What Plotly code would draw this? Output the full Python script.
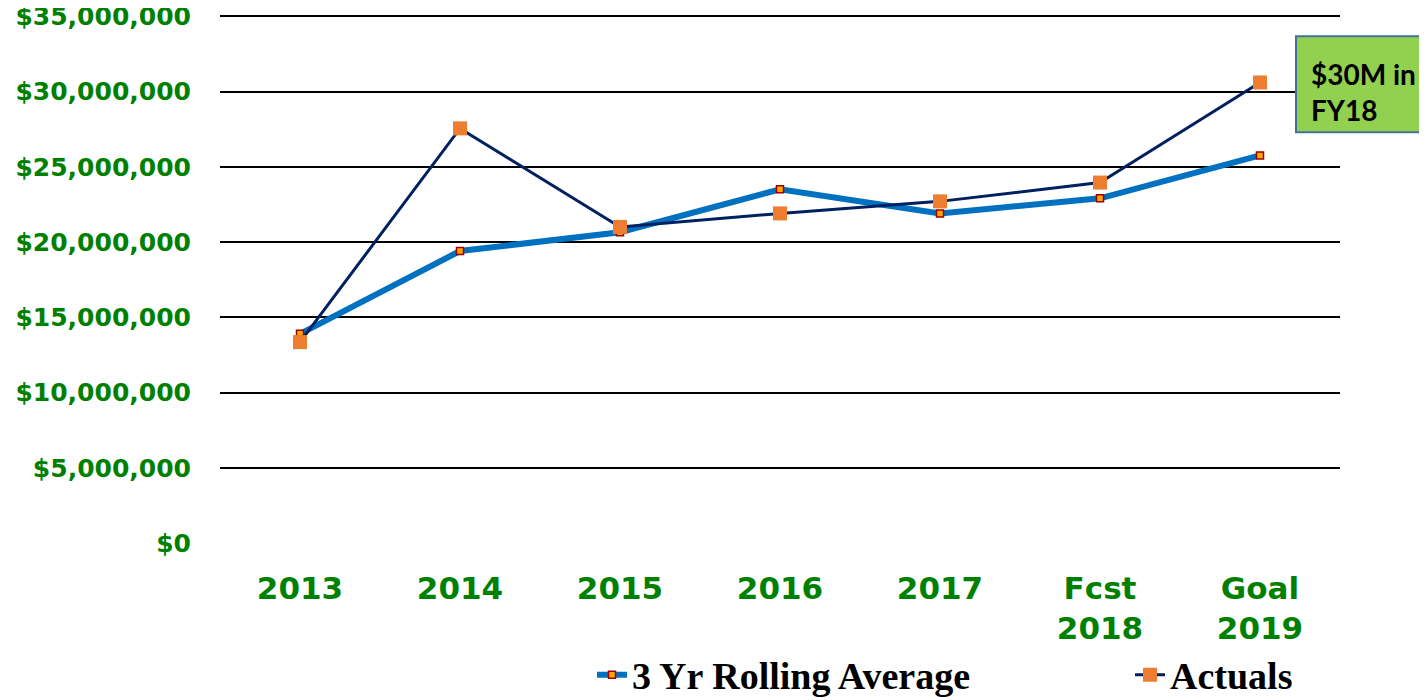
import plotly.graph_objects as go

categories = ["2013", "2014", "2015", "2016", "2017", "Fcst<br>2018", "Goal<br>2019"]
rolling_avg = [13.9e6, 19.4e6, 20.65e6, 23.5e6, 21.9e6, 22.9e6, 25.75e6]
actuals = [13.35e6, 27.55e6, 21.0e6, 21.9e6, 22.7e6, 23.95e6, 30.6e6]
y_ticks = [0, 5e6, 10e6, 15e6, 20e6, 25e6, 30e6, 35e6]
y_tick_text = ["$0", "$5,000,000", "$10,000,000", "$15,000,000", "$20,000,000",
               "$25,000,000", "$30,000,000", "$35,000,000"]

green = "#008000"
OFF = 8  # the page body margin shifts the figure by 8 px
Y_TOP = 35.15e6
W, H = 1427 - OFF, 700 - OFF
# plot area in page pixels: x 220..1340; y of 0 at 543, 35M at 16
px_per_unit = (543 - 16) / 35e6
ph = Y_TOP * px_per_unit
L, R, B = 220 - OFF, 1427 - 1340, 700 - 543
T = H - B - ph
pw = W - L - R


def px(x):
    return (x - OFF - L) / pw


def py(y):
    return (H - B - (y - OFF)) / ph


fig = go.Figure()
fig.add_trace(go.Scatter(
    x=categories, y=rolling_avg, name="3 Yr Rolling Average", mode="lines+markers",
    line=dict(color="#0070C0", width=6),
    marker=dict(symbol="square", size=7, color="#FFA500", line=dict(color="#A00000", width=1.5)),
    legend="legend",
))
fig.add_trace(go.Scatter(
    x=categories, y=actuals, name="Actuals", mode="lines+markers",
    line=dict(color="#002060", width=3),
    marker=dict(symbol="square", size=14, color="#ED7D31"),
    legend="legend2",
))

legend_font = dict(family="Liberation Serif", size=38, color="black", weight="bold")
fig.update_layout(
    width=W, height=H,
    margin=dict(l=L, r=R, t=T, b=B, autoexpand=False),
    plot_bgcolor="white", paper_bgcolor="white",
    showlegend=True,
    legend=dict(orientation="h", x=px(592), xanchor="left", y=py(675), yanchor="middle",
                font=legend_font, bgcolor="rgba(0,0,0,0)"),
    legend2=dict(orientation="h", x=px(1130), xanchor="left", y=py(675), yanchor="middle",
                 font=legend_font, bgcolor="rgba(0,0,0,0)"),
    xaxis=dict(type="category", range=[-0.5, 6.5], showgrid=False, showline=False, zeroline=False,
               ticks="", automargin=False,
               tickfont=dict(family="DejaVu Sans", size=31, color=green, weight="bold"),
               ticklabelstandoff=24),
    yaxis=dict(range=[0, Y_TOP], tickvals=y_ticks, ticktext=y_tick_text, automargin=False,
               showgrid=True, gridcolor="black", gridwidth=2, zeroline=False, showline=False,
               ticks="", ticklabeloverflow="allow",
               tickfont=dict(family="DejaVu Sans", size=25, color=green, weight="bold"),
               ticklabelstandoff=28),
)
fig.add_shape(type="rect", xref="paper", yref="paper",
              x0=px(1296), x1=px(1425), y0=py(132), y1=py(36),
              fillcolor="#92D050", line=dict(color="#41719C", width=2), layer="above")
fig.add_annotation(
    xref="paper", yref="paper", x=px(1309), y=py(92),
    xanchor="left", yanchor="middle", text="$30M in<br>FY18", align="left",
    showarrow=False,
    font=dict(family="Lato", size=28, color="black", weight="bold"),
)
fig.write_html("out.html")
